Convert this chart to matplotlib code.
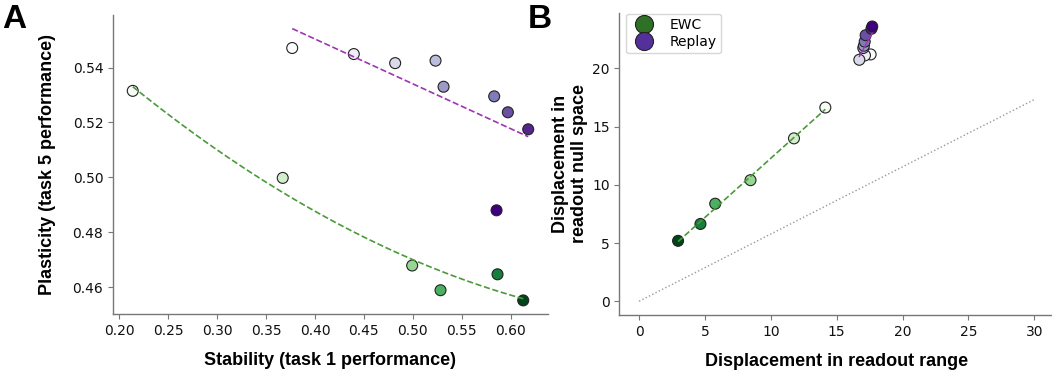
import numpy as np
import matplotlib
matplotlib.use("Agg")
import matplotlib.pyplot as plt
from matplotlib.lines import Line2D

# ---- data (ordered from lightest to darkest colour) ----
ewc_stability = [0.2136, 0.367, 0.4994, 0.5284, 0.5867, 0.613]
ewc_plasticity = [0.5315, 0.4998, 0.4679, 0.4589, 0.4647, 0.4552]
replay_stability = [0.3767, 0.4397, 0.482, 0.5233, 0.5315, 0.5833, 0.5973, 0.6181, 0.5857]
replay_plasticity = [0.5471, 0.5449, 0.5416, 0.5425, 0.5330, 0.5295, 0.5237, 0.5175, 0.4880]

ewc_range = [14.14, 11.76, 8.46, 5.78, 4.66, 2.96]
ewc_null = [16.64, 13.99, 10.40, 8.38, 6.64, 5.19]
replay_range = [17.58, 17.15, 16.72, 17.02, 17.07, 17.13, 17.20, 17.64, 17.70]
replay_null = [21.20, 21.12, 20.74, 21.75, 21.95, 22.30, 22.85, 23.40, 23.60]

ref_x = [0, 30]
legend_labels = ["EWC", "Replay"]

plt.rcParams['font.family'] = ['DejaVu Sans']
fig = plt.figure(figsize=(10.52, 3.75), dpi=100)
axA = fig.add_axes([0.1074, 0.1627, 0.4135, 0.7973])
axB = fig.add_axes([0.5887, 0.16, 0.4132, 0.806])

gcols = plt.get_cmap('Greens')(np.linspace(0, 1, len(ewc_stability)))
pcols = plt.get_cmap('Purples')(np.linspace(0, 1, len(replay_stability)))

green_line = '#4a9a3a'
purple_line = '#9e34b4'
label_font = dict(family='Liberation Sans', weight='bold', size=13)

# Panel A
axA.scatter(ewc_stability, ewc_plasticity, s=62, c=gcols, edgecolors='#222222', linewidths=0.8, zorder=2)
axA.scatter(replay_stability, replay_plasticity, s=62, c=pcols, edgecolors='#222222', linewidths=0.8, zorder=2)
cg = np.polyfit(ewc_stability, ewc_plasticity, 2)
xg = np.linspace(min(ewc_stability), max(ewc_stability), 100)
axA.plot(xg, np.polyval(cg, xg), '--', color=green_line, lw=1.2, zorder=3)
cp = np.polyfit(replay_stability, replay_plasticity, 1)
xp = np.linspace(min(replay_stability), max(replay_stability), 100)
axA.plot(xp, np.polyval(cp, xp), '--', color=purple_line, lw=1.2, zorder=3)
axA.set_xticks(np.arange(0.20, 0.601, 0.05))
axA.set_yticks([0.46, 0.48, 0.50, 0.52, 0.54])
axA.set_xlabel('Stability (task 1 performance)', fontdict=label_font, labelpad=10)
axA.set_ylabel('Plasticity (task 5 performance)', fontdict=label_font, labelpad=12)

# Panel B
axB.plot(ref_x, np.array(ref_x) / np.sqrt(3), ':', color='#999999', lw=1.0, zorder=1)
axB.scatter(ewc_range, ewc_null, s=62, c=gcols, edgecolors='#222222', linewidths=0.8, zorder=2)
axB.scatter(replay_range, replay_null, s=62, c=pcols, edgecolors='#222222', linewidths=0.8, zorder=2)
cg2 = np.polyfit(ewc_range, ewc_null, 1)
xg2 = np.linspace(min(ewc_range), max(ewc_range), 50)
axB.plot(xg2, np.polyval(cg2, xg2), '--', color=green_line, lw=1.2, zorder=3)
cp2 = np.polyfit(replay_range, replay_null, 1)
xp2 = np.linspace(min(replay_range), max(replay_range), 50)
axB.plot(xp2, np.polyval(cp2, xp2), '-', color=purple_line, lw=1.0, zorder=3)
axB.set_xticks([0, 5, 10, 15, 20, 25, 30])
axB.set_yticks([0, 5, 10, 15, 20])
axB.set_xlabel('Displacement in readout range', fontdict=label_font, labelpad=10)
axB.set_ylabel('Displacement in\nreadout null space', fontdict=label_font, labelpad=3,
               linespacing=1.15)

handles = [Line2D([], [], marker='o', ls='', markersize=13, markerfacecolor='#2e7025', markeredgecolor='#222222', markeredgewidth=0.8),
           Line2D([], [], marker='o', ls='', markersize=13, markerfacecolor='#54309a', markeredgecolor='#222222', markeredgewidth=0.8)]
axB.legend(handles, legend_labels, loc='upper left', fontsize=10, frameon=True,
           borderpad=0.3, handletextpad=0.8, labelspacing=0.25, bbox_to_anchor=(0.0, 1.02))

for ax in (axA, axB):
    ax.spines['top'].set_visible(False)
    ax.spines['right'].set_visible(False)
    for s in ('left', 'bottom'):
        ax.spines[s].set_color('#777777')
        ax.spines[s].set_linewidth(1.0)
    ax.tick_params(colors='#777777', labelcolor='#111111', labelsize=10, length=3.5)

fig.text(0.002, 0.99, 'A', family='Liberation Sans', weight='bold', size=24, va='top', ha='left')
fig.text(0.502, 0.99, 'B', family='Liberation Sans', weight='bold', size=24, va='top', ha='left')

fig.savefig('out.png', dpi=100)
